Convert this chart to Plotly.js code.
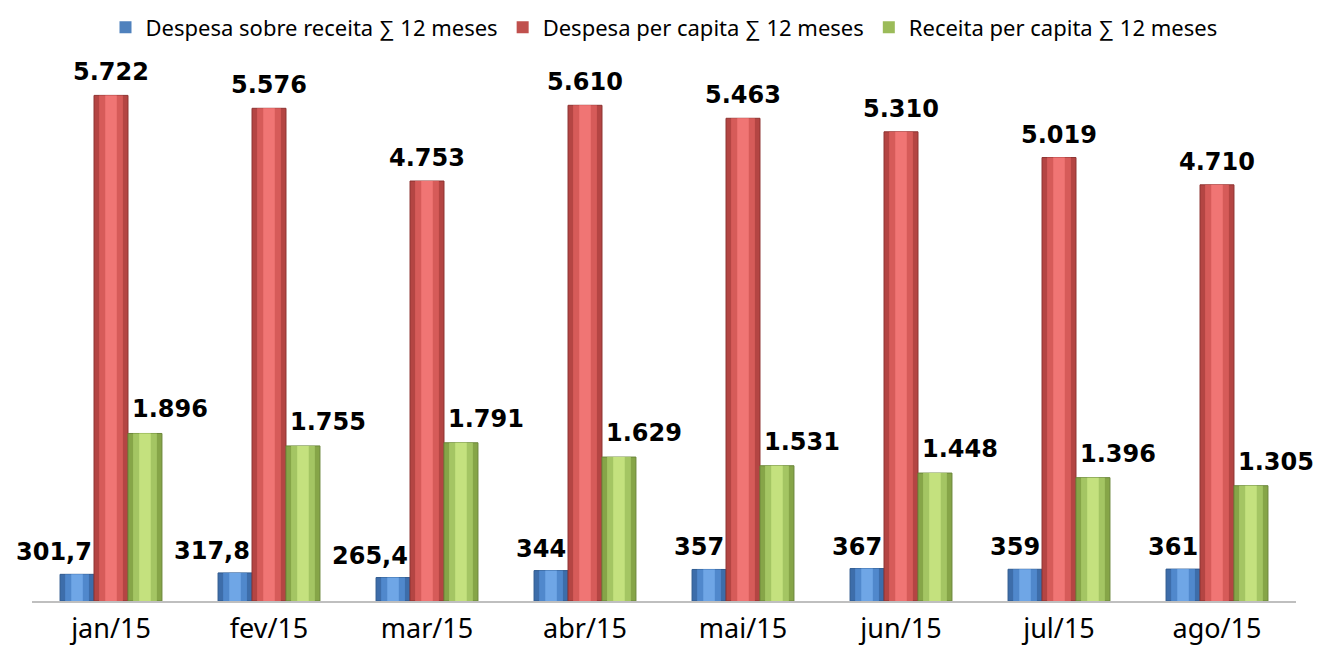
<!DOCTYPE html>
<html>
<head>
<meta charset="utf-8">
<script src="https://cdn.plot.ly/plotly-3.0.1.min.js"></script>
<style>html,body{margin:0;padding:0;background:#fff;}#chart{width:1318px;height:651px;}</style>
</head>
<body>
<div id="chart"></div>
<script>
const categories = ['jan/15','fev/15','mar/15','abr/15','mai/15','jun/15','jul/15','ago/15'];
const despesaSobreReceita = [301.7, 317.8, 265.4, 344, 357, 367, 359, 361];
const despesaPerCapita = [5722, 5576, 4753, 5610, 5463, 5310, 5019, 4710];
const receitaPerCapita = [1896, 1755, 1791, 1629, 1531, 1448, 1396, 1305];
const seriesNames = ['Despesa sobre receita \u2211 12 meses','Despesa per capita \u2211 12 meses','Receita per capita \u2211 12 meses'];

function fmt(v){
  if (Number.isInteger(v)) {
    return String(v).replace(/\B(?=(\d{3})+(?!\d))/g, '.');
  }
  return v.toFixed(1).replace('.', ',');
}

const W = 0.215;
const idx = categories.map((c,i)=>i);
const series = [
  {name: seriesNames[0], y: despesaSobreReceita, offset: -1.5*W, base:'#3D6DAA', mid:'#5088CC', light:'#6FA6E6', line:'#2F5A8F'},
  {name: seriesNames[1], y: despesaPerCapita, offset: -0.5*W, base:'#B44543', mid:'#D65B59', light:'#F07574', line:'#8E3331'},
  {name: seriesNames[2], y: receitaPerCapita, offset: 0.5*W, base:'#86A548', mid:'#A4C563', light:'#C4E17E', line:'#6B863A'}
];
const legendColors = ['#4F81BD','#C0504D','#9BBB59'];

const traces = [];
series.forEach((s,k)=>{
  traces.push({type:'bar', x: idx, y: s.y, name: s.name, width: W, offset: s.offset,
    marker:{color: s.base, line:{color: s.line, width:1}}, showlegend:false, hoverinfo:'skip'});
  traces.push({type:'bar', x: idx, y: s.y, width: W*0.7, offset: s.offset + W*0.15,
    marker:{color: s.mid, line:{width:0}}, showlegend:false, hoverinfo:'skip'});
  traces.push({type:'bar', x: idx, y: s.y, width: W*0.34, offset: s.offset + W*0.33,
    marker:{color: s.light, line:{width:0}}, showlegend:false, hoverinfo:'skip'});
  traces.push({type:'bar', x:[null], y:[null], name: s.name, marker:{color: legendColors[k]}, showlegend:true});
});

const annotations = [];
const labelFont = {family:'DejaVu Sans, Verdana, sans-serif', size:24, color:'#000'};
despesaSobreReceita.forEach((v,i)=>{
  annotations.push({x: i + series[0].offset + W, y: v, text: '<b>'+fmt(v)+'</b>', showarrow:false,
    xanchor:'right', yanchor:'bottom', yshift:6, font: labelFont});
});
despesaPerCapita.forEach((v,i)=>{
  annotations.push({x: i, y: v, text: '<b>'+fmt(v)+'</b>', showarrow:false,
    xanchor:'center', yanchor:'bottom', yshift:7, font: labelFont});
});
receitaPerCapita.forEach((v,i)=>{
  annotations.push({x: i + series[2].offset + 0.01, y: v, text: '<b>'+fmt(v)+'</b>', showarrow:false,
    xanchor:'left', yanchor:'bottom', yshift:8, font: labelFont});
});

const layout = {
  width:1318, height:651,
  margin:{l:32, r:22, t:62, b:50, autoexpand:false},
  paper_bgcolor:'#fff', plot_bgcolor:'#fff',
  barmode:'overlay',
  showlegend:true,
  legend:{orientation:'h', x:0.5, xanchor:'center', y:0.958, yanchor:'middle', yref:'container',
    font:{family:'Noto Sans, sans-serif', size:22, color:'#000'}, itemwidth:30, traceorder:'normal'},
  xaxis:{range:[-0.5,7.5], tickmode:'array', tickvals: idx, ticktext: categories, automargin:false,
    showline:true, linecolor:'#BFBFBF', linewidth:2, showgrid:false, zeroline:false,
    ticks:'', ticklabelstandoff:3,
    tickfont:{family:'Noto Sans, sans-serif', size:27, color:'#000'}},
  yaxis:{range:[0,6100], visible:false, showgrid:false, zeroline:false},
  annotations: annotations
};

Plotly.newPlot('chart', traces, layout, {displayModeBar:false, staticPlot:true});
</script>
</body>
</html>
